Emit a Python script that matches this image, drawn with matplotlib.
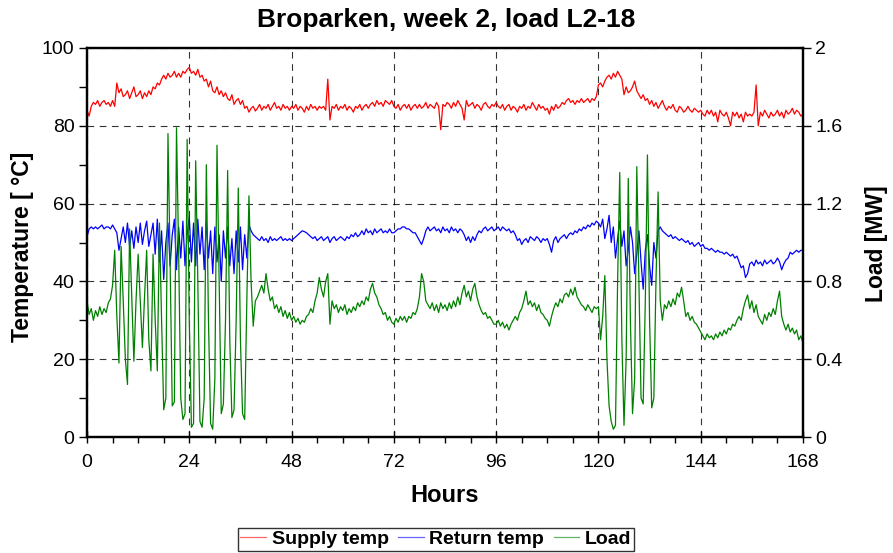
import numpy as np
import matplotlib
matplotlib.use("Agg")
import matplotlib.pyplot as plt
from matplotlib.ticker import MultipleLocator

plt.rcParams['font.family'] = ['Liberation Sans', 'DejaVu Sans']

# Time axis: half-hour samples over one week
step_h = 0.5
n_hours = 168

# Supply temperature [degC], rows of 12 hours (24 half-hour samples)
supply_temp = [
    84, 82.5, 85, 86, 85.5, 86.5, 85, 86, 86.5, 85.5, 86, 85, 86.5, 85, 91, 88.5, 89.5, 87.5, 88, 89, 87, 88.5, 90, 87.5,
    88, 89, 87, 88.5, 87.5, 89, 88, 90, 89.5, 91, 90.5, 92, 93, 92, 93.5, 92.5, 93, 94, 92.5, 93.5, 92.5, 94, 93.5, 94.5,
    95, 93.5, 94, 93, 94.5, 92.5, 93, 91.5, 92, 90, 91.5, 89, 88.5, 90, 88, 89, 87.5, 88.5, 87, 86.5, 88, 85.5, 86.5, 87,
    85.5, 86.5, 84.5, 85, 83.5, 84.5, 85, 83.8, 84.5, 85.5, 84, 85, 84.5, 85.5, 84, 85, 86, 84.5, 85, 84, 85.5, 84.5, 85, 84,
    85, 84.5, 85.5, 84, 85, 84.5, 83.5, 85, 84, 85.5, 84.5, 85, 84, 85, 84.5, 85, 84, 92, 81.5, 85, 84.5, 85.5, 84, 85,
    84.5, 85.5, 84, 85, 84.5, 83.5, 85, 84.5, 85.5, 84, 85, 85.5, 84.5, 85.5, 86, 85, 86.5, 85.5, 86, 85, 86.5, 86, 85.5, 86.5,
    85, 84.5, 85.5, 84, 85, 85.5, 84.5, 85.5, 84, 85, 85.5, 84.5, 85.5, 84.5, 85, 86, 84.5, 85.5, 85, 84.5, 86, 85, 79, 85.5,
    85, 86, 85.5, 84.5, 86, 85, 86.5, 85.5, 84.5, 81.5, 86.5, 85, 85.5, 86, 84.5, 85.5, 85, 84, 85.5, 86, 85, 84.5, 85.5, 85,
    86, 85, 84.5, 85.5, 84, 85, 85.5, 84, 85, 84.5, 83.5, 85, 84.5, 85.5, 84, 85, 84.5, 86, 85, 84, 85.5, 84.5, 85, 84,
    84.5, 83, 85, 84, 85.5, 84.5, 85, 86, 85.5, 86.5, 87, 86, 86.5, 85.5, 86.5, 86, 87, 86, 86.5, 87, 86, 87, 86.5, 87.5,
    90.5, 91, 90, 91.5, 92.5, 93, 92, 93.5, 92.5, 94, 93, 92, 88, 90, 88.5, 89, 90, 91.5, 89, 88, 87, 88, 86.5, 87,
    85.5, 86.5, 85, 86, 84.5, 85.5, 86.5, 85, 84, 85, 84.5, 85.5, 84, 83.5, 85, 84.5, 83.5, 84, 85, 84, 83.5, 84.5, 84, 83.5,
    84, 83, 82.5, 84, 83, 84, 82.5, 83.5, 81, 84, 83, 82.5, 83.5, 82, 80, 83.5, 82.5, 83.5, 82, 83, 81, 83.5, 82.5, 83,
    82.5, 83.5, 90.5, 80, 83.5, 82.5, 84, 83, 82, 83.5, 82.5, 83, 84, 82.5, 83.5, 82, 84, 83, 83.5, 84.5, 83, 84, 83.5, 82.5,
    83,
]

# Return temperature [degC]
return_temp = [
    51.5, 53.5, 54, 53.5, 54, 53.5, 54, 54.5, 53.5, 54, 54, 53.5, 54.5, 53.5, 52.5, 48, 51, 54, 50, 55, 49, 53, 48.5, 54,
    50, 55, 49.5, 53, 55.5, 49, 52, 55, 47, 56, 45, 53, 40.5, 50, 55, 44, 52, 56, 43, 54, 46, 55.5, 44, 52,
    56.5, 45, 55, 44, 56, 47, 54, 43, 55.5, 46, 53, 42, 54, 45, 52, 40, 53, 46, 54, 44, 51, 42, 53, 45,
    54, 43, 52, 46, 54.5, 53, 52, 51.5, 51, 50.5, 51.5, 50.5, 51, 50, 51.5, 50.5, 51, 50.5, 51, 51.5, 50.5, 51, 50.5, 51,
    50.5, 51, 51.5, 52, 52.5, 53, 52.8, 52.5, 52, 51.5, 51, 51.5, 50.5, 51, 51.5, 50.5, 51, 51.5, 50, 51, 51.5, 50.5, 51, 51.5,
    51, 50.5, 51.5, 51, 52, 51.5, 52.5, 51.5, 52, 53, 52, 53.5, 52.5, 53, 52, 53.5, 52.5, 53, 53.5, 52.5, 53, 52.5, 53.5, 52.5,
    52.5, 53, 53.5, 53.5, 54, 54, 53.5, 53.5, 53, 52.5, 52.5, 51.5, 50.5, 49.5, 51, 53, 54, 53, 53.5, 54, 53, 53.5, 52.5, 54,
    53, 53.5, 52.5, 54, 53, 53.5, 52.5, 53.5, 53, 52, 50.5, 51.5, 50, 51.5, 50.5, 52, 53, 52.5, 53.5, 54, 53, 53.5, 54, 53,
    53.5, 54, 53, 54, 53.5, 53, 53.5, 52.5, 53, 52, 50.5, 51, 49.5, 50.5, 51, 50, 51.5, 51, 50.5, 51.5, 51, 50, 51, 50.5,
    51, 49.5, 47.5, 50.5, 51.5, 50, 51, 51.5, 52, 51, 52, 52.5, 52, 53, 52.5, 53.5, 53, 54, 53.5, 54.5, 54, 55, 54.5, 55.5,
    55, 54, 56, 51, 53.5, 57, 50, 54, 46, 51, 55.5, 49, 53, 44, 48, 54, 50, 42, 47, 53, 45, 38, 48, 52,
    44, 39, 50, 46, 53, 54, 53, 52.5, 52, 51.5, 52, 51, 51.5, 51, 50.5, 51, 50.5, 50, 50.5, 49.5, 50, 49, 49.5, 50,
    49, 49.5, 48.5, 48.5, 48, 48.5, 48, 47.5, 48, 47.5, 47.5, 47, 47.5, 47, 46.5, 47, 46, 46.5, 45, 43.5, 44, 41, 42, 44.5,
    45, 44, 45.5, 44.5, 45, 44, 45.5, 44.5, 45, 45.5, 44.5, 45, 46, 45, 43, 44.5, 45.5, 46, 47.5, 47, 47.5, 48, 47.5, 48,
    48,
]

# Load [MW]
load_mw = [
    0.70, 0.63, 0.66, 0.60, 0.65, 0.62, 0.67, 0.63, 0.66, 0.64, 0.69, 0.71, 0.78, 0.96, 0.62, 0.38, 0.98, 0.70, 0.40, 0.27, 1.07, 0.72, 0.39, 0.70,
    0.94, 0.70, 0.46, 0.72, 0.96, 0.50, 0.34, 0.94, 0.60, 0.34, 1.10, 0.60, 0.14, 0.20, 1.56, 0.90, 0.16, 0.18, 1.59, 0.95, 0.20, 0.09, 0.12, 1.53,
    0.60, 0.05, 0.07, 1.42, 0.80, 0.08, 0.05, 0.20, 1.40, 0.60, 0.07, 0.04, 0.30, 1.50, 0.80, 0.12, 0.17, 0.60, 1.37, 0.50, 0.10, 0.14, 0.60, 1.28,
    0.50, 0.12, 0.09, 0.70, 1.24, 0.80, 0.57, 0.70, 0.72, 0.75, 0.78, 0.74, 0.84, 0.76, 0.70, 0.72, 0.66, 0.68, 0.64, 0.67, 0.62, 0.65, 0.61, 0.64,
    0.60, 0.62, 0.59, 0.61, 0.58, 0.60, 0.59, 0.62, 0.63, 0.66, 0.64, 0.70, 0.74, 0.82, 0.76, 0.72, 0.80, 0.84, 0.58, 0.70, 0.66, 0.68, 0.64, 0.67,
    0.65, 0.68, 0.63, 0.66, 0.64, 0.67, 0.65, 0.69, 0.67, 0.70, 0.68, 0.72, 0.70, 0.76, 0.79, 0.74, 0.72, 0.68, 0.66, 0.63, 0.64, 0.60, 0.62, 0.59,
    0.58, 0.61, 0.59, 0.62, 0.60, 0.62, 0.59, 0.62, 0.61, 0.64, 0.63, 0.66, 0.72, 0.84, 0.80, 0.70, 0.68, 0.66, 0.69, 0.65, 0.68, 0.64, 0.69, 0.66,
    0.68, 0.65, 0.69, 0.66, 0.70, 0.67, 0.72, 0.68, 0.74, 0.78, 0.72, 0.75, 0.70, 0.76, 0.79, 0.72, 0.68, 0.65, 0.63, 0.64, 0.61, 0.62, 0.60, 0.58,
    0.58, 0.60, 0.57, 0.59, 0.56, 0.58, 0.55, 0.58, 0.60, 0.62, 0.60, 0.64, 0.66, 0.70, 0.75, 0.68, 0.70, 0.67, 0.69, 0.65, 0.68, 0.64, 0.63, 0.61,
    0.60, 0.57, 0.62, 0.66, 0.69, 0.67, 0.71, 0.69, 0.73, 0.74, 0.72, 0.76, 0.73, 0.77, 0.72, 0.70, 0.68, 0.67, 0.65, 0.68, 0.66, 0.64, 0.67, 0.66,
    0.67, 0.50, 0.62, 0.83, 0.40, 0.16, 0.08, 0.04, 0.06, 0.80, 1.36, 0.50, 0.06, 0.40, 1.33, 0.60, 0.12, 0.30, 1.39, 0.80, 0.20, 0.17, 0.70, 1.45,
    0.60, 0.15, 0.20, 0.80, 1.26, 0.70, 0.60, 0.68, 0.66, 0.70, 0.67, 0.71, 0.68, 0.74, 0.72, 0.77, 0.70, 0.62, 0.64, 0.60, 0.62, 0.59, 0.58, 0.56,
    0.54, 0.52, 0.50, 0.53, 0.51, 0.52, 0.50, 0.53, 0.51, 0.54, 0.52, 0.55, 0.53, 0.56, 0.55, 0.58, 0.57, 0.60, 0.62, 0.60, 0.66, 0.70, 0.73, 0.66,
    0.70, 0.64, 0.68, 0.62, 0.60, 0.58, 0.63, 0.60, 0.64, 0.62, 0.66, 0.63, 0.70, 0.75, 0.62, 0.58, 0.55, 0.58, 0.54, 0.56, 0.53, 0.55, 0.50, 0.52,
    0.48,
]

x_ticks = [0, 24, 48, 72, 96, 120, 144, 168]
temp_ticks = [0, 20, 40, 60, 80, 100]
load_ticks = [0, 0.4, 0.8, 1.2, 1.6, 2]
load_tick_labels = ['0', '0.4', '0.8', '1.2', '1.6', '2']

hours = np.arange(len(supply_temp)) * step_h

W, H = 893, 553
fig = plt.figure(figsize=(W / 100, H / 100), dpi=100)
ax = fig.add_axes([87 / W, 1 - 437 / H, 716 / W, 389 / H])
ax2 = ax.twinx()

l1, = ax.plot(hours, supply_temp, color='#ff0000', lw=0.9, label='Supply temp')
l2, = ax.plot(hours, return_temp, color='#0000ff', lw=0.9, label='Return temp')
l3, = ax2.plot(hours, load_mw, color='#008000', lw=0.9, label='Load')

ax.set_xlim(0, n_hours)
ax.set_ylim(0, 100)
ax2.set_ylim(0, 2)
ax.set_xticks(x_ticks)
ax.set_yticks(temp_ticks)
ax2.set_yticks(load_ticks)
ax2.set_yticklabels(load_tick_labels)
ax.xaxis.set_minor_locator(MultipleLocator(6))
ax.yaxis.set_minor_locator(MultipleLocator(10))

for a in (ax, ax2):
    for s in a.spines.values():
        s.set_linewidth(1.6)
        s.set_color('black')

ax.tick_params(axis='x', which='major', direction='inout', length=8, width=1, labelsize=14, pad=8)
ax.tick_params(axis='x', which='minor', direction='out', length=4, width=1)
ax.tick_params(axis='y', which='major', direction='out', length=6, width=1, labelsize=14, pad=3)
ax.tick_params(axis='y', which='minor', direction='out', length=6, width=1)
ax2.tick_params(axis='y', which='major', direction='out', length=6, width=1, labelsize=14, pad=3)

ax.grid(True, which='major', axis='both', color='black', linestyle=(0, (6, 5)), linewidth=0.8, alpha=0.8)
ax.set_axisbelow(True)

fig.text(446.5 / W, 1 - 20 / H, 'Broparken, week 2, load L2-18', fontsize=19,
         fontweight='bold', ha='center', va='center')
fig.text(445 / W, 1 - 495 / H, 'Hours', fontsize=17, fontweight='bold', ha='center', va='center')
fig.text(23 / W, 1 - 247 / H, 'Temperature [ °C]', fontsize=16.5, fontweight='bold',
         rotation=90, ha='center', va='center')
fig.text(877 / W, 1 - 244 / H, 'Load [MW]', fontsize=16.5, fontweight='bold',
         rotation=90, ha='center', va='center')

leg = fig.legend(handles=[l1, l2, l3], loc='lower center', bbox_to_anchor=(436 / W, 0.0), ncol=3,
                 frameon=True, fancybox=False, edgecolor='black', handlelength=1.3,
                 handletextpad=0.3, columnspacing=0.5, borderpad=0.15, borderaxespad=0.1,
                 prop={'weight': 'bold', 'size': 14})
leg.get_frame().set_linewidth(1.0)
for h in leg.legend_handles:
    h.set_alpha(0.6)

fig.savefig('out.png', dpi=100)
